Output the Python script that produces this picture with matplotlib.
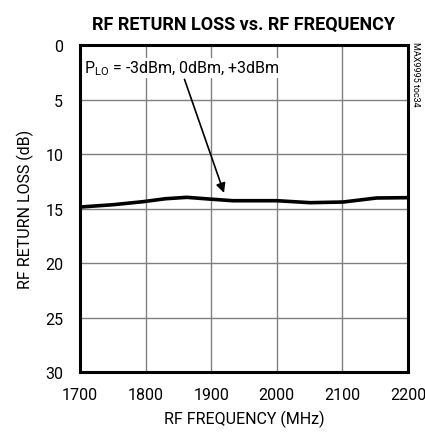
import matplotlib
matplotlib.use("Agg")
import matplotlib.pyplot as plt
import numpy as np

plt.rcParams['font.family'] = ['Roboto', 'DejaVu Sans']

# data
freq = [1700, 1750, 1796, 1830, 1863, 1898, 1933, 2000, 2051, 2101, 2152, 2200]
ret_loss = [14.86, 14.65, 14.37, 14.1, 13.97, 14.13, 14.28, 14.28, 14.46, 14.4, 14.03, 14.0]

xticks = [1700, 1800, 1900, 2000, 2100, 2200]
yticks = [0, 5, 10, 15, 20, 25, 30]

fig = plt.figure(figsize=(4.25, 4.35), dpi=100)
ax = fig.add_axes([0.188, 0.1425, 0.772, 0.7515])

ax.plot(freq, ret_loss, color='black', lw=2.6, solid_capstyle='butt')

ax.set_xlim(1700, 2200)
ax.set_ylim(30, 0)
ax.set_xticks(xticks)
ax.set_yticks(yticks)
ax.grid(True, color='#808080', lw=1.0)
ax.tick_params(length=0, labelsize=11.5)
ax.tick_params(axis='x', pad=11)
ax.tick_params(axis='y', pad=12)
for s in ax.spines.values():
    s.set_linewidth(2.2)

ax.set_xlabel('RF FREQUENCY (MHz)', fontsize=11.5, labelpad=5)
ax.set_ylabel('RF RETURN LOSS (dB)', fontsize=11.5, labelpad=8)
ax.set_title('RF RETURN LOSS vs. RF FREQUENCY', fontsize=13, fontweight='bold', pad=12)

ax.annotate('', xy=(1921, 13.8), xytext=(1858, 2.9),
            arrowprops=dict(arrowstyle='-|>', color='black', lw=1.2, mutation_scale=14))
ax.text(1707, 2.1, r'P$_{\mathregular{LO}}$ = -3dBm, 0dBm, +3dBm', fontsize=11.5,
        va='center', ha='left', bbox=dict(fc='white', ec='none', pad=0.5))

fig.text(0.978, 0.83, 'MAX9995 toc34', rotation=270, fontsize=6.5, va='center', ha='center')

fig.savefig('out.png', dpi=100)
